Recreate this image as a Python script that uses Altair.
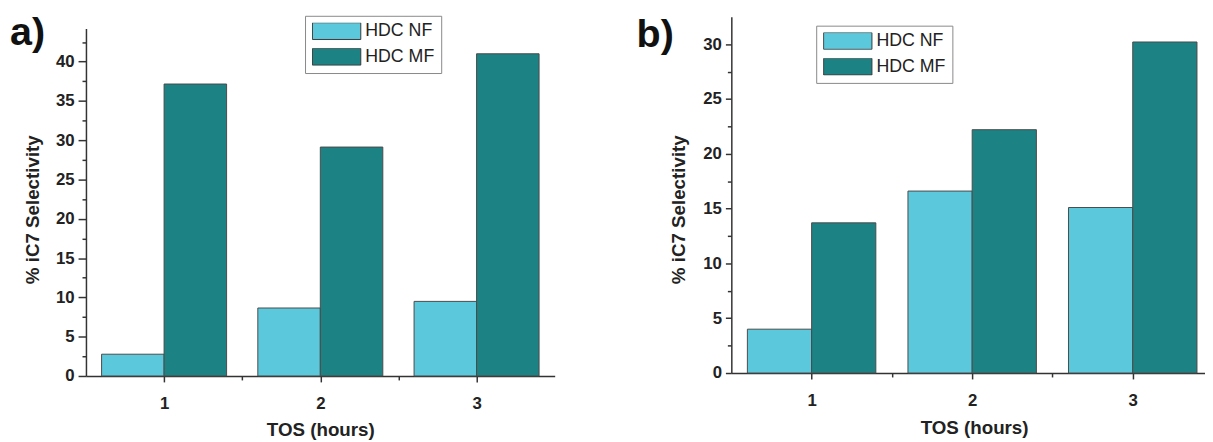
import altair as alt
import pandas as pd

# ---- data ----
tos = [1, 2, 3]
series = ["HDC NF", "HDC MF"]
a_nf = [2.77, 8.65, 9.49]
a_mf = [37.15, 29.13, 41.0]
b_nf = [4.0, 16.6, 15.1]
b_mf = [13.7, 22.2, 30.2]
colors = ["#5cc8db", "#1d8283"]

a_yticks = [i * 2.5 for i in range(18)]   # 0 .. 42.5
b_yticks = [i * 2.5 for i in range(13)]   # 0 .. 30
x_ticks = [1, 1.5, 2, 2.5, 3]


def frame(nf, mf):
    rows = []
    for i, t in enumerate(tos):
        rows.append({"tos": t, "series": series[0], "k": 0, "value": nf[i]})
        rows.append({"tos": t, "series": series[1], "k": 1, "value": mf[i]})
    return pd.DataFrame(rows)


BAR = 0.4
RECT = "M-1,-0.347H1V0.347H-1Z"
FONT = "Liberation Sans"


def panel(df, label, label_xy, ymax, yvals, yrange, width, height, xmax,
          legend_xy, ymajor, ytitle_x, xtitle_x, xtitle_y):
    base = alt.Chart(df).transform_calculate(
        x0=f"datum.tos - {BAR} + {BAR} * datum.k",
        x1=f"datum.tos + {BAR} * datum.k",
        zero="0",
    )
    bars = base.mark_rect(stroke="#4a4a4a", strokeWidth=1, opacity=1).encode(
        x=alt.X(
            "x0:Q",
            scale=alt.Scale(domain=[0.5, xmax], nice=False, zero=False),
            axis=alt.Axis(
                values=x_ticks,
                labelExpr="datum.value % 1 === 0 ? format(datum.value, 'd') : ''",
                tickSize={"condition": {"test": "datum.value % 1 === 0", "value": 6}, "value": 4},
                labelPadding=14,
                title="TOS (hours)",
                titleX=xtitle_x,
                titleY=xtitle_y,
                titleBaseline="top",
                titleAlign="center",
            ),
        ),
        x2="x1:Q",
        y=alt.Y(
            "value:Q",
            scale=alt.Scale(domain=[0, ymax], range=yrange, nice=False, zero=True),
            axis=alt.Axis(
                values=yvals,
                labelExpr="datum.value % 5 === 0 ? datum.label : ''",
                tickSize={"condition": {"test": "datum.value % 5 === 0", "value": ymajor}, "value": 4},
                labelPadding=4,
                title="% iC7 Selectivity",
                titleX=ytitle_x,
                titleY=195,
                titleBaseline="middle",
                titleAlign="center",
            ),
        ),
        y2="zero:Q",
        fill=alt.Fill(
            "series:N",
            scale=alt.Scale(domain=series, range=colors),
            legend=alt.Legend(
                title=None,
                orient="none",
                legendX=legend_xy[0],
                legendY=legend_xy[1],
                symbolType=RECT,
                symbolSize=49 * 49,
                symbolStrokeColor="#3a3a3a",
                symbolStrokeWidth=1,
                symbolOpacity=1,
                clipHeight=17,
                labelFont=FONT,
                labelFontSize=18,
                labelColor="#222222",
                labelOffset=4,
                strokeColor="#888888",
                fillColor="white",
                padding=7,
                rowPadding=7,
            ),
        ),
    )
    txt = alt.Chart(pd.DataFrame({"t": [label]})).mark_text(
        font=FONT, fontWeight="bold", fontSize=40, align="left",
        baseline="alphabetic", color="#111111",
    ).encode(text="t:N", x=alt.value(label_xy[0]), y=alt.value(label_xy[1]))
    return alt.layer(bars, txt).properties(width=width, height=height)


pa = panel(frame(a_nf, a_mf), "a)", (-77, 29), 44.2, a_yticks, [364, 12],
           475, 364, 3.5, (222, -1), 8, -54, 237.5, 45)
pb = panel(frame(b_nf, b_mf), "b)", (-96, 31), 32.5, b_yticks, [361, 0],
           480, 361, 3.45, (86, 9), 6, -53, 246, 46)

chart = alt.hconcat(pa, pb, spacing=83).resolve_scale(
    fill="independent"
).resolve_legend(fill="independent").properties(
    padding={"left": 2, "top": 3, "right": 0, "bottom": 0}
).configure_view(stroke=None).configure_axis(
    grid=False,
    domainColor="#333333",
    domainWidth=1.5,
    tickColor="#333333",
    tickWidth=1.5,
    labelFont=FONT,
    labelFontSize=17,
    labelFontWeight="bold",
    labelColor="#222222",
    titleFont=FONT,
    titleFontSize=19,
    titleFontWeight="bold",
    titleColor="#222222",
)

chart.save("out.html", embed_options={"renderer": "svg", "actions": False})
